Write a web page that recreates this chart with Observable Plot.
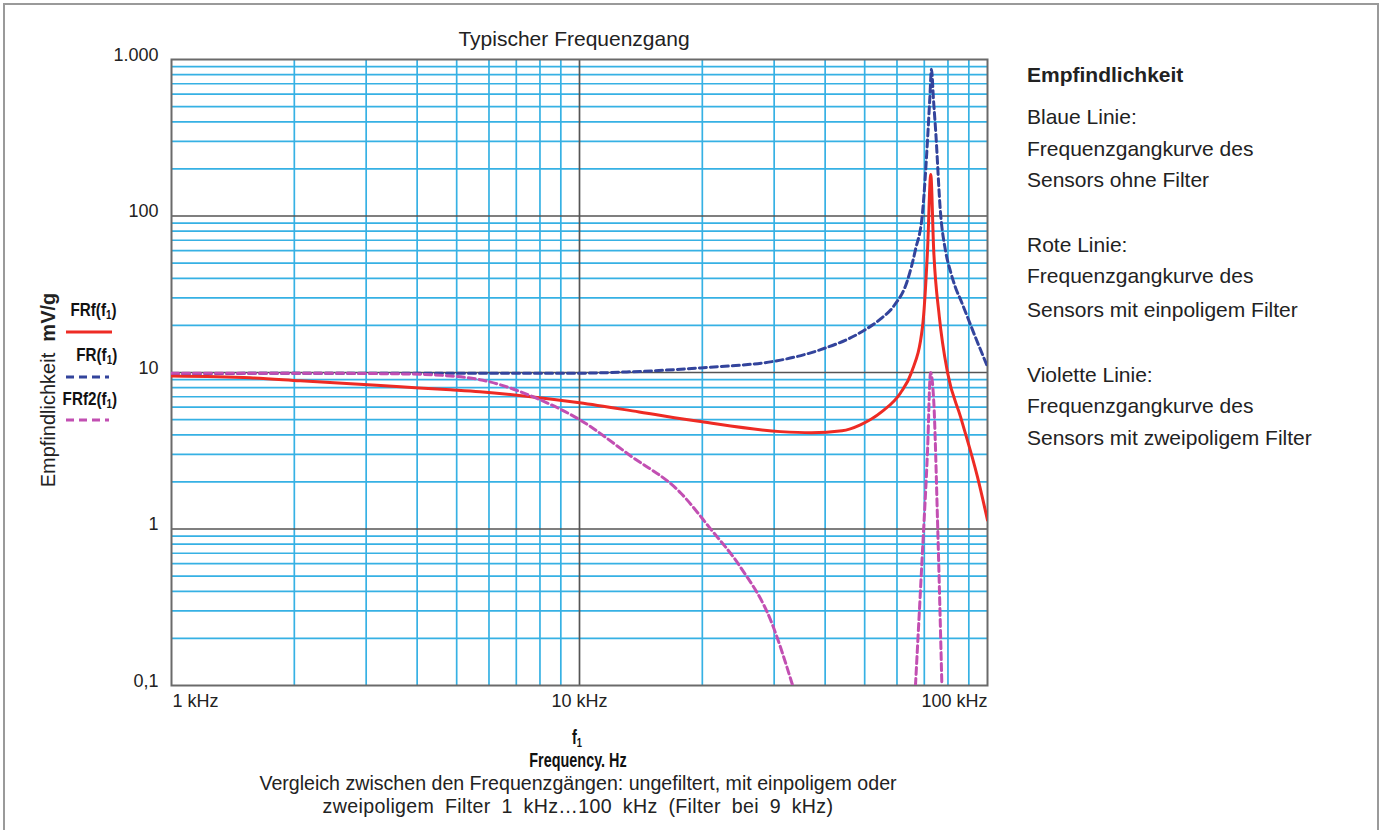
<!DOCTYPE html>
<html><head><meta charset="utf-8">
<script src="https://cdn.jsdelivr.net/npm/d3@7"></script>
<script src="https://cdn.jsdelivr.net/npm/@observablehq/plot@0.6"></script>
<style>
body{margin:0;background:#fff;}
#page{position:relative;width:1385px;height:830px;overflow:hidden;background:#fff;font-family:"Liberation Sans",Arial,Helvetica,sans-serif;color:#222;}
#border{position:absolute;left:3px;top:3px;width:1376px;height:900px;border:2px solid #9a9a9a;box-sizing:border-box;}
.t{position:absolute;white-space:nowrap;line-height:1;}
#plot{position:absolute;left:0;top:0;}
sub{font-size:0.65em;vertical-align:-0.25em;line-height:0;}
</style></head><body><div id="page"><div id="border"></div></div>
<script>
// ---- data (frequency in kHz, sensitivity in mV/g) ----
const freqFR  = [1, 2.07, 4.83, 10, 13.3, 19.8, 31.1, 39, 48.8, 54.7, 58.8, 63.7, 66.6, 69.3, 71.3, 72.2, 72.9, 73.7, 74.6, 76.7, 78.9, 81.2, 83.5, 85.9, 93.5, 100];
const sensFR  = [9.8, 9.9, 9.9, 9.9, 10.1, 10.7, 12, 14, 18, 22, 26.4, 39, 61, 105, 309, 560, 865, 560, 357, 105, 60, 44, 34.8, 29.2, 16.7, 10.9];

const freqFRf = [1, 1.56, 2.07, 2.75, 3.64, 4.83, 5.7, 7.6, 10, 14, 19.8, 31.1, 37, 44, 48.8, 55, 61.2, 65.1, 69.3, 71.3, 72.6, 73.8, 76.2, 79.8, 85.9, 94.5, 100];
const sensFRf = [9.5, 9.25, 8.85, 8.47, 8.1, 7.75, 7.53, 7.0, 6.4, 5.6, 4.86, 4.19, 4.12, 4.24, 4.63, 5.6, 7.4, 10, 19.6, 61, 184, 61, 22.7, 10, 5.2, 2.15, 1.14];

const freqFRf2a = [1, 2.07, 3.64, 4.83, 5.7, 8.0, 10, 13.3, 17.7, 20.9, 24.8, 29.4, 33.3];
const sensFRf2a = [9.9, 9.9, 9.8, 9.5, 9.0, 6.7, 5.0, 2.95, 1.7, 1.01, 0.571, 0.262, 0.1];
const freqFRf2b = [66.6, 69.3, 71.3, 72.5, 73.8, 75.5, 77.3];
const sensFRf2b = [0.1, 0.73, 3.2, 10, 6.7, 1.03, 0.1];

const xTicks = [1, 10, 100];
const xTickLabels = ["1 kHz", "10 kHz", "100 kHz"];
const yTicks = [1000, 100, 10, 1, 0.1];
const yTickLabels = ["1.000", "100", "10", "1", "0,1"];
const minorMult = [2, 3, 4, 5, 6, 7, 8, 9];

const seriesNames = ["FRf", "FR", "FRf2"];
const seriesColors = ["#ee2b24", "#33449c", "#c24fb2"];
const seriesDash = [null, "7,4", "7,4"];

const rightTexts = [
  ["Empfindlichkeit", true],
  ["Blaue Linie:", false], ["Frequenzgangkurve des", false], ["Sensors ohne Filter", false],
  ["Rote Linie:", false], ["Frequenzgangkurve des", false], ["Sensors mit einpoligem Filter", false],
  ["Violette Linie:", false], ["Frequenzgangkurve des", false], ["Sensors mit zweipoligem Filter", false]
];
const rightBaselines = [82, 124, 156, 187, 252, 283, 317, 382, 413, 445];

// ---- build tables ----
const toRows = (fs, vs, seg) => fs.map((f, i) => ({f, v: vs[i], seg}));
const rowsFR = toRows(freqFR, sensFR, "a");
const rowsFRf = toRows(freqFRf, sensFRf, "a");
const rowsFRf2 = [...toRows(freqFRf2a, sensFRf2a, "a"), ...toRows(freqFRf2b, sensFRf2b, "b")];

const xMinor = [], yMinor = [];
[1, 10].forEach(d => minorMult.forEach(m => xMinor.push(d * m)));
[0.1, 1, 10, 100].forEach(d => minorMult.forEach(m => yMinor.push(d * m)));
const xMajor = xTicks.slice(1, -1);
const yMajor = yTicks.slice(1, -1);

const gridBlue = "#36b1e4";
const dark = "#555";

const chart = Plot.plot({
  width: 1000, height: 720,
  marginLeft: 171, marginRight: 13, marginTop: 59, marginBottom: 35,
  x: {type: "log", domain: [1, 100], axis: null},
  y: {type: "log", domain: [0.1, 1000], axis: null},
  style: {fontFamily: "'Liberation Sans', Arial, sans-serif", background: "transparent", overflow: "visible", color: "#222"},
  marks: [
    Plot.ruleX(xMinor, {stroke: gridBlue, strokeWidth: 1.7}),
    Plot.ruleY(yMinor, {stroke: gridBlue, strokeWidth: 1.7}),
    Plot.ruleX(xMajor, {stroke: dark, strokeWidth: 1.7}),
    Plot.ruleY(yMajor, {stroke: dark, strokeWidth: 1.7}),
    Plot.frame({stroke: "#6a6a6a", strokeWidth: 2}),
    Plot.line(rowsFR, {x: "f", y: "v", stroke: seriesColors[1], strokeWidth: 3, strokeDasharray: seriesDash[1], curve: "monotone-x", clip: true}),
    Plot.line(rowsFRf, {x: "f", y: "v", stroke: seriesColors[0], strokeWidth: 3, curve: "monotone-x", clip: true}),
    Plot.line(rowsFRf2, {x: "f", y: "v", z: "seg", stroke: seriesColors[2], strokeWidth: 3, strokeDasharray: seriesDash[2], curve: "monotone-x", clip: true}),
    Plot.text(yTicks, {y: d => d, text: (d, i) => yTickLabels[i], frameAnchor: "left", textAnchor: "end", dx: -13, dy: -4.5, fontSize: 18, fill: "#222"}),
    Plot.text([xTicks[0]], {x: d => d, text: () => xTickLabels[0], frameAnchor: "bottom", textAnchor: "start", dx: 1, dy: 21, fontSize: 18, fill: "#222"}),
    Plot.text([xTicks[1]], {x: d => d, text: () => xTickLabels[1], frameAnchor: "bottom", textAnchor: "middle", dy: 21, fontSize: 18, fill: "#222"}),
    Plot.text([xTicks[2]], {x: d => d, text: () => xTickLabels[2], frameAnchor: "bottom", textAnchor: "end", dy: 21, fontSize: 18, fill: "#222"})
  ]
});
chart.id = "plot";
const page = document.getElementById("page");
page.appendChild(chart);

function addText(html, left, baseline, size, extra) {
  const d = document.createElement("div");
  d.className = "t";
  d.innerHTML = html;
  d.style.fontSize = size + "px";
  d.style.top = (baseline - 0.846 * size) + "px";
  d.style.left = left + "px";
  if (extra) extra(d);
  page.appendChild(d);
  return d;
}
const center = d => { d.style.transform = "translateX(-50%)"; };
const condensedCenter = d => { d.style.fontWeight = "bold"; d.style.color = "#111"; d.style.transform = "translateX(-50%) scaleX(0.72)"; };

// title
addText("Typischer Frequenzgang", 574, 46, 21, center);
// right-side texts
rightTexts.forEach(([txt, bold], i) => addText(txt, 1027, rightBaselines[i], 21, d => { if (bold) d.style.fontWeight = "bold"; }));
// x-axis label and caption
addText("f<sub>1</sub>", 577, 744, 20, condensedCenter);
addText("Frequency. Hz", 578, 767, 20, condensedCenter);
addText("Vergleich zwischen den Frequenzgängen: ungefiltert, mit einpoligem oder", 578, 791, 19.6, center);
addText("zweipoligem Filter 1 kHz…100 kHz (Filter bei 9 kHz)", 578, 814, 19.6, d => { center(d); d.style.wordSpacing = "5px"; d.style.letterSpacing = "0.35px"; });

// y-axis label (rotated)
const yl = document.createElement("div");
yl.className = "t";
yl.style.fontSize = "20px";
yl.innerHTML = "Empfindlichkeit&nbsp; <b>mV/g</b>";
yl.style.left = "48px"; yl.style.top = "390px";
yl.style.transform = "translate(-50%,-50%) rotate(-90deg)";
page.appendChild(yl);

// legend in left margin
const legendY = [309, 354, 398];
const legendLineY = [332, 377, 420];
const legendOrder = [0, 1, 2];
legendOrder.forEach((k, i) => {
  addText(seriesNames[k] + "(f<sub>1</sub>)", 0, legendY[i] + 7, 19, dd => {
    dd.style.fontWeight = "bold"; dd.style.color = "#111";
    dd.style.left = "auto"; dd.style.right = (1385 - 117) + "px";
    dd.style.transformOrigin = "right center";
    dd.style.transform = "scaleX(0.8)";
  });
});
const ns = "http://www.w3.org/2000/svg";
const lsvg = document.createElementNS(ns, "svg");
lsvg.setAttribute("width", 130); lsvg.setAttribute("height", 460);
lsvg.style.position = "absolute"; lsvg.style.left = "0px"; lsvg.style.top = "0px";
legendOrder.forEach((k, i) => {
  const ln = document.createElementNS(ns, "line");
  ln.setAttribute("x1", 66); ln.setAttribute("x2", k === 0 ? 112 : 109);
  ln.setAttribute("y1", legendLineY[i]); ln.setAttribute("y2", legendLineY[i]);
  ln.setAttribute("stroke", seriesColors[k]); ln.setAttribute("stroke-width", 3);
  if (seriesDash[k]) ln.setAttribute("stroke-dasharray", "8,5");
  lsvg.appendChild(ln);
});
page.appendChild(lsvg);
</script>
</body></html>
